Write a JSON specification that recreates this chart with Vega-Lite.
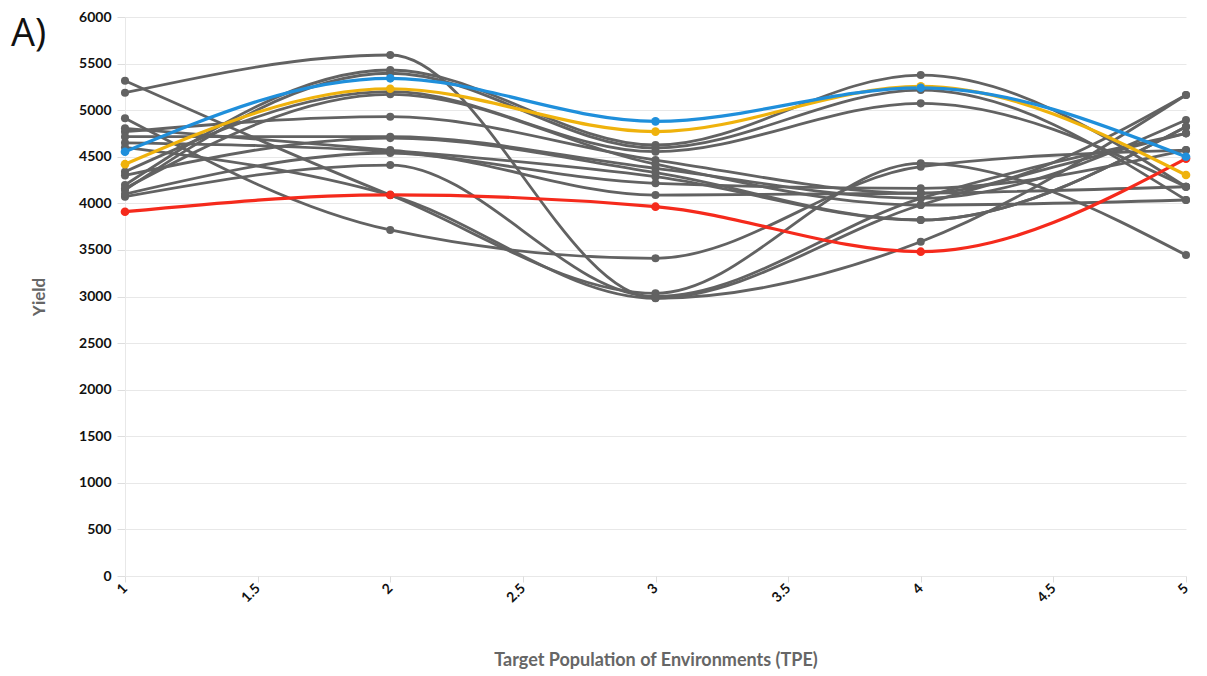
{
  "$schema": "https://vega.github.io/schema/vega-lite/v6.json",
  "width": 1061,
  "height": 559,
  "autosize": {"type": "none"},
  "padding": {"left": 125, "top": 17, "right": 21, "bottom": 100},
  "background": "white",
  "title": {"text": "A)", "anchor": "start", "frame": "group", "orient": "top", "offset": 0, "dx": -114, "dy": 44, "baseline": "top", "fontSize": 38, "fontWeight": "normal", "font": "Open Sans", "color": "#111"},
  "config": {
    "view": {"stroke": null},
    "axis": {"labelFont": "Lato", "titleFont": "Lato", "gridColor": "#e8e8e8", "domainColor": "#e8e8e8", "tickColor": "#dddddd"}
  },
  "data": {"values": [
    {"s": "g1", "c": "gray", "x": 1, "y": 5187}, {"s": "g1", "c": "gray", "x": 2, "y": 5592}, {"s": "g1", "c": "gray", "x": 3, "y": 2984}, {"s": "g1", "c": "gray", "x": 4, "y": 3982}, {"s": "g1", "c": "gray", "x": 5, "y": 4751},
    {"s": "g2", "c": "gray", "x": 1, "y": 5316}, {"s": "g2", "c": "gray", "x": 2, "y": 4089}, {"s": "g2", "c": "gray", "x": 3, "y": 3034}, {"s": "g2", "c": "gray", "x": 4, "y": 4429}, {"s": "g2", "c": "gray", "x": 5, "y": 3445},
    {"s": "g3", "c": "gray", "x": 1, "y": 4913}, {"s": "g3", "c": "gray", "x": 2, "y": 3714}, {"s": "g3", "c": "gray", "x": 3, "y": 3410}, {"s": "g3", "c": "gray", "x": 4, "y": 4393}, {"s": "g3", "c": "gray", "x": 5, "y": 4572},
    {"s": "g4", "c": "gray", "x": 1, "y": 4197}, {"s": "g4", "c": "gray", "x": 2, "y": 5431}, {"s": "g4", "c": "gray", "x": 3, "y": 4626}, {"s": "g4", "c": "gray", "x": 4, "y": 5377}, {"s": "g4", "c": "gray", "x": 5, "y": 4178},
    {"s": "g5", "c": "gray", "x": 1, "y": 4143}, {"s": "g5", "c": "gray", "x": 2, "y": 5396}, {"s": "g5", "c": "gray", "x": 3, "y": 4594}, {"s": "g5", "c": "gray", "x": 4, "y": 5216}, {"s": "g5", "c": "gray", "x": 5, "y": 4036},
    {"s": "g6", "c": "gray", "x": 1, "y": 4339}, {"s": "g6", "c": "gray", "x": 2, "y": 5198}, {"s": "g6", "c": "gray", "x": 3, "y": 4554}, {"s": "g6", "c": "gray", "x": 4, "y": 5073}, {"s": "g6", "c": "gray", "x": 5, "y": 4178},
    {"s": "g7", "c": "gray", "x": 1, "y": 4769}, {"s": "g7", "c": "gray", "x": 2, "y": 4930}, {"s": "g7", "c": "gray", "x": 3, "y": 4465}, {"s": "g7", "c": "gray", "x": 4, "y": 4108}, {"s": "g7", "c": "gray", "x": 5, "y": 5163},
    {"s": "g8", "c": "gray", "x": 1, "y": 4715}, {"s": "g8", "c": "gray", "x": 2, "y": 4715}, {"s": "g8", "c": "gray", "x": 3, "y": 4376}, {"s": "g8", "c": "gray", "x": 4, "y": 4054}, {"s": "g8", "c": "gray", "x": 5, "y": 4894},
    {"s": "g9", "c": "gray", "x": 1, "y": 4805}, {"s": "g9", "c": "gray", "x": 2, "y": 4572}, {"s": "g9", "c": "gray", "x": 3, "y": 4286}, {"s": "g9", "c": "gray", "x": 4, "y": 3821}, {"s": "g9", "c": "gray", "x": 5, "y": 4823},
    {"s": "g10", "c": "gray", "x": 1, "y": 4650}, {"s": "g10", "c": "gray", "x": 2, "y": 4554}, {"s": "g10", "c": "gray", "x": 3, "y": 4215}, {"s": "g10", "c": "gray", "x": 4, "y": 4161}, {"s": "g10", "c": "gray", "x": 5, "y": 4572},
    {"s": "g11", "c": "gray", "x": 1, "y": 4071}, {"s": "g11", "c": "gray", "x": 2, "y": 4411}, {"s": "g11", "c": "gray", "x": 3, "y": 3000}, {"s": "g11", "c": "gray", "x": 4, "y": 4054}, {"s": "g11", "c": "gray", "x": 5, "y": 4751},
    {"s": "g12", "c": "gray", "x": 1, "y": 4600}, {"s": "g12", "c": "gray", "x": 2, "y": 4089}, {"s": "g12", "c": "gray", "x": 3, "y": 2981}, {"s": "g12", "c": "gray", "x": 4, "y": 3588}, {"s": "g12", "c": "gray", "x": 5, "y": 5163},
    {"s": "g13", "c": "gray", "x": 1, "y": 4160}, {"s": "g13", "c": "gray", "x": 2, "y": 5170}, {"s": "g13", "c": "gray", "x": 3, "y": 4420}, {"s": "g13", "c": "gray", "x": 4, "y": 3982}, {"s": "g13", "c": "gray", "x": 5, "y": 4036},
    {"s": "g14", "c": "gray", "x": 1, "y": 4100}, {"s": "g14", "c": "gray", "x": 2, "y": 4540}, {"s": "g14", "c": "gray", "x": 3, "y": 4089}, {"s": "g14", "c": "gray", "x": 4, "y": 4108}, {"s": "g14", "c": "gray", "x": 5, "y": 4178},
    {"s": "g15", "c": "gray", "x": 1, "y": 4300}, {"s": "g15", "c": "gray", "x": 2, "y": 4700}, {"s": "g15", "c": "gray", "x": 3, "y": 4330}, {"s": "g15", "c": "gray", "x": 4, "y": 3821}, {"s": "g15", "c": "gray", "x": 5, "y": 4823},
    {"s": "red", "c": "red", "x": 1, "y": 3910}, {"s": "red", "c": "red", "x": 2, "y": 4090}, {"s": "red", "c": "red", "x": 3, "y": 3964}, {"s": "red", "c": "red", "x": 4, "y": 3481}, {"s": "red", "c": "red", "x": 5, "y": 4480},
    {"s": "orange", "c": "orange", "x": 1, "y": 4420}, {"s": "orange", "c": "orange", "x": 2, "y": 5230}, {"s": "orange", "c": "orange", "x": 3, "y": 4770}, {"s": "orange", "c": "orange", "x": 4, "y": 5255}, {"s": "orange", "c": "orange", "x": 5, "y": 4304},
    {"s": "blue", "c": "blue", "x": 1, "y": 4554}, {"s": "blue", "c": "blue", "x": 2, "y": 5342}, {"s": "blue", "c": "blue", "x": 3, "y": 4880}, {"s": "blue", "c": "blue", "x": 4, "y": 5240}, {"s": "blue", "c": "blue", "x": 5, "y": 4500}
  ]},
  "encoding": {
    "x": {"field": "x", "type": "quantitative", "scale": {"domain": [1, 5], "nice": false, "zero": false},
      "axis": {"values": [1, 1.5, 2, 2.5, 3, 3.5, 4, 4.5, 5], "format": "~g", "grid": false, "labelAngle": -45, "labelAlign": "right", "labelBaseline": "middle", "labelFontSize": 14, "labelFontWeight": "bold", "labelColor": "#111", "labelPadding": 4, "tickSize": 6, "domain": false,
        "title": "Target Population of Environments (TPE)", "titleFontSize": 18, "titleFontWeight": "bold", "titleColor": "#666", "titlePadding": 47}},
    "y": {"field": "y", "type": "quantitative", "scale": {"domain": [0, 6000], "nice": false},
      "axis": {"values": [0, 500, 1000, 1500, 2000, 2500, 3000, 3500, 4000, 4500, 5000, 5500, 6000], "format": "d", "grid": true, "labelFontSize": 14, "labelFontWeight": "bold", "labelColor": "#111", "labelPadding": 6, "ticks": true, "tickSize": 8, "domain": true,
        "title": "Yield", "titleFontSize": 17, "titleFontWeight": "bold", "titleColor": "#666", "titlePadding": 30}},
    "color": {"field": "c", "type": "nominal", "legend": null, "scale": {"domain": ["gray", "red", "orange", "blue"], "range": ["#626262", "#f52a1c", "#efb20c", "#1f8fdb"]}},
    "detail": {"field": "s", "type": "nominal"}
  },
  "layer": [
    {"transform": [{"filter": "datum.c === 'gray'"}], "mark": {"type": "line", "interpolate": "monotone", "strokeWidth": 2.8, "point": {"filled": true, "size": 65}}},
    {"transform": [{"filter": "datum.c !== 'gray'"}], "mark": {"type": "line", "interpolate": "monotone", "strokeWidth": 3.2, "point": {"filled": true, "size": 75}}}
  ]
}
